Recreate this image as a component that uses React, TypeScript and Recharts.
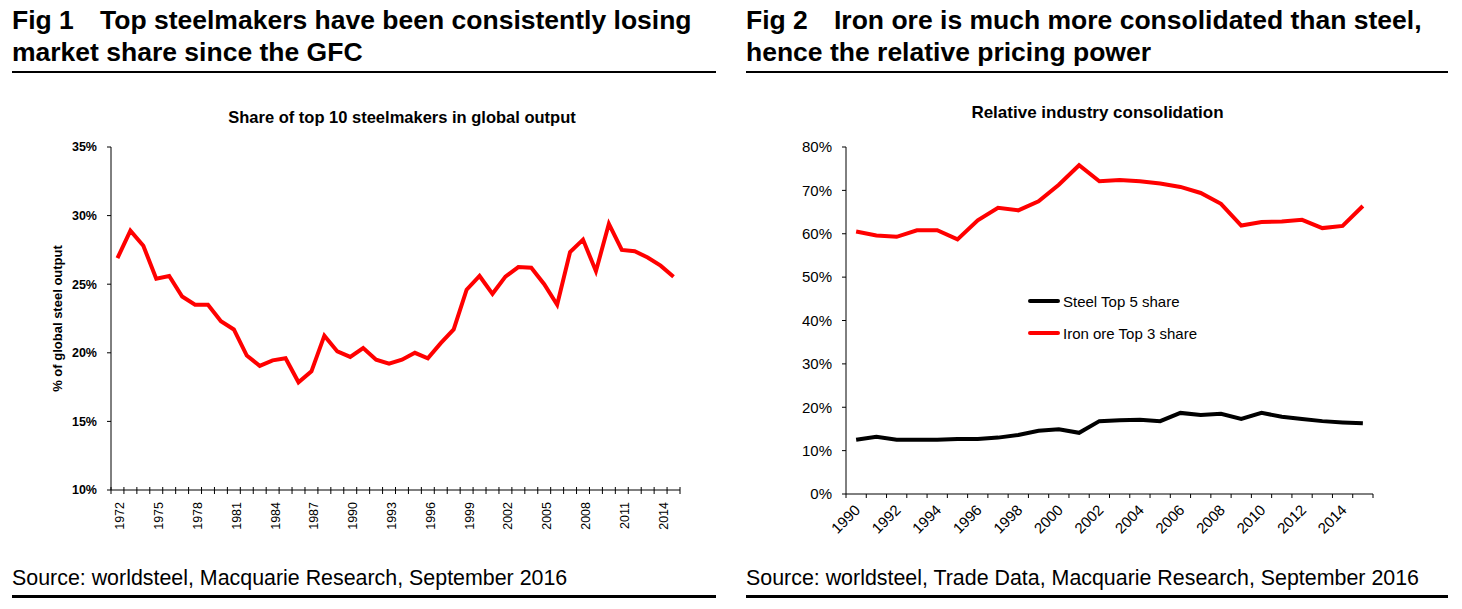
import React from 'react';
import { LineChart, Line, XAxis, YAxis, Legend } from 'recharts';

const FONT = '"Liberation Sans", Arial, Helvetica, sans-serif';

// ---------- Fig 1 data ----------
const steelYears = [
  '1972', '1973', '1974', '1975', '1976', '1977', '1978', '1979', '1980', '1981',
  '1982', '1983', '1984', '1985', '1986', '1987', '1988', '1989', '1990', '1991',
  '1992', '1993', '1994', '1995', '1996', '1997', '1998', '1999', '2000', '2001',
  '2002', '2003', '2004', '2005', '2006', '2007', '2008', '2009', '2010', '2011',
  '2012', '2013', '2014', '2015',
];
const top10Share = [
  26.9, 28.9, 27.8, 25.4, 25.6, 24.1, 23.5, 23.5, 22.3, 21.7,
  19.8, 19.05, 19.45, 19.6, 17.85, 18.65, 21.25, 20.1, 19.7, 20.35,
  19.5, 19.2, 19.5, 20.0, 19.6, 20.7, 21.7, 24.6, 25.6, 24.3,
  25.55, 26.25, 26.2, 25.0, 23.5, 27.35, 28.25, 25.95, 29.4, 27.5,
  27.4, 26.95, 26.35, 25.55,
];
const fig1Ticks = [10, 15, 20, 25, 30, 35];

// ---------- Fig 2 data ----------
const consYears = [
  '1990', '1991', '1992', '1993', '1994', '1995', '1996', '1997', '1998', '1999',
  '2000', '2001', '2002', '2003', '2004', '2005', '2006', '2007', '2008', '2009',
  '2010', '2011', '2012', '2013', '2014', '2015',
];
const steelTop5 = [
  12.5, 13.2, 12.5, 12.5, 12.5, 12.7, 12.7, 13.0, 13.6, 14.6,
  14.9, 14.1, 16.8, 17.0, 17.1, 16.8, 18.7, 18.2, 18.5, 17.3,
  18.7, 17.8, 17.3, 16.8, 16.5, 16.3,
];
const ironTop3 = [
  60.5, 59.6, 59.3, 60.8, 60.8, 58.7, 63.1, 66.0, 65.4, 67.5,
  71.3, 75.8, 72.1, 72.4, 72.1, 71.6, 70.8, 69.4, 66.9, 61.9,
  62.7, 62.8, 63.2, 61.3, 61.8, 66.4,
];
const fig2Ticks = [0, 10, 20, 30, 40, 50, 60, 70, 80];
const legendOrder = ['steel', 'iron'];

const data1 = steelYears.map((year, i) => ({ year, share: top10Share[i] }));
const data2 = consYears.map((year, i) => ({ year, steel: steelTop5[i], iron: ironTop3[i] }));

const pct = (v: number) => `${v}%`;

const Fig1XTick = (props: any) => {
  const { x, y, payload, index, visibleTicksCount } = props;
  const off = payload && payload.offset ? payload.offset : 0;
  const isLast = index === visibleTicksCount - 1;
  return (
    <g>
      <line x1={x - off} x2={x - off} y1={y - 3} y2={y + 4} stroke="#000" strokeWidth={1} />
      {isLast && <line x1={x + off} x2={x + off} y1={y - 3} y2={y + 4} stroke="#000" strokeWidth={1} />}
      {index % 3 === 0 && (
        <text
          transform={`translate(${x + 7},${y + 12}) rotate(-90)`}
          textAnchor="end"
          fontFamily={FONT}
          fontSize={12.5}
          fill="#000"
        >
          {payload.value}
        </text>
      )}
    </g>
  );
};

const Fig2XTick = (props: any) => {
  const { x, y, payload, index, visibleTicksCount } = props;
  const off = payload && payload.offset ? payload.offset : 0;
  const isLast = index === visibleTicksCount - 1;
  return (
    <g>
      <line x1={x - off} x2={x - off} y1={y} y2={y + 4} stroke="#000" strokeWidth={1} />
      {isLast && <line x1={x + off} x2={x + off} y1={y} y2={y + 4} stroke="#000" strokeWidth={1} />}
      {index % 2 === 0 && (
        <text
          transform={`translate(${x + 5},${y + 17}) rotate(-45)`}
          textAnchor="end"
          fontFamily={FONT}
          fontSize={15}
          fill="#000"
        >
          {payload.value}
        </text>
      )}
    </g>
  );
};

const Fig2Legend = (props: any) => {
  const items = [...(props.payload || [])].sort(
    (a: any, b: any) => legendOrder.indexOf(a.dataKey) - legendOrder.indexOf(b.dataKey)
  );
  return (
    <div style={{ fontFamily: FONT, fontSize: 15, color: '#000' }}>
      {items.map((p: any) => (
        <div key={p.value} style={{ display: 'flex', alignItems: 'center', height: 32 }}>
          <div style={{ width: 32, height: 4, background: p.color, borderRadius: 2 }} />
          <span style={{ marginLeft: 3, whiteSpace: 'nowrap' }}>{p.value}</span>
        </div>
      ))}
    </div>
  );
};

const abs = (s: React.CSSProperties): React.CSSProperties => ({ position: 'absolute', ...s });

export default function App() {
  return (
    <div style={abs({ left: 0, top: 0, width: 1462, height: 609, background: '#fff', overflow: 'hidden', fontFamily: FONT, color: '#000' })}>
      {/* Headers */}
      <div style={abs({ left: 12, top: 4, width: 720, fontSize: 26.5, fontWeight: 700, lineHeight: '32px', whiteSpace: 'nowrap' })}>
        <span style={{ display: 'inline-block', width: 88 }}>Fig 1</span>Top steelmakers have been consistently losing
        <br />market share since the GFC
      </div>
      <div style={abs({ left: 746, top: 4, width: 716, fontSize: 26.5, fontWeight: 700, lineHeight: '32px', whiteSpace: 'nowrap' })}>
        <span style={{ display: 'inline-block', width: 88 }}>Fig 2</span>Iron ore is much more consolidated than steel,
        <br />hence the relative pricing power
      </div>
      <div style={abs({ left: 12, top: 71, width: 704, height: 2, background: '#000' })} />
      <div style={abs({ left: 746, top: 71, width: 702, height: 2, background: '#000' })} />

      {/* Chart titles */}
      <div style={abs({ left: 111, top: 107, width: 582, textAlign: 'center', fontSize: 16.5, fontWeight: 700, lineHeight: '20px', whiteSpace: 'nowrap' })}>
        Share of top 10 steelmakers in global output
      </div>
      <div style={abs({ left: 846, top: 103, width: 503, textAlign: 'center', fontSize: 17, fontWeight: 700, lineHeight: '20px', whiteSpace: 'nowrap' })}>
        Relative industry consolidation
      </div>

      {/* Fig 1 chart */}
      <div style={abs({ left: 0, top: 0 })}>
        <LineChart width={730} height={609} data={data1} margin={{ top: 147, right: 50, bottom: 59, left: 51 }}>
          <XAxis
            dataKey="year"
            scale="band"
            interval={0}
            height={60}
            tickSize={0}
            tickMargin={0}
            tickLine={false}
            axisLine={{ stroke: '#000', strokeWidth: 1 }}
            tick={<Fig1XTick />}
          />
          <YAxis
            width={60}
            domain={[10, 35]}
            ticks={fig1Ticks}
            tickFormatter={pct}
            tickSize={4}
            tickMargin={10}
            tickLine={{ stroke: '#000' }}
            axisLine={{ stroke: '#000', strokeWidth: 1 }}
            tick={{ fontFamily: FONT, fontSize: 12.5, fontWeight: 700, fill: '#000' }}
            label={{
              value: '% of global steel output',
              angle: -90,
              position: 'insideLeft',
              offset: 6,
              style: { fontFamily: FONT, fontSize: 13, fontWeight: 700, fill: '#000', textAnchor: 'middle' },
            }}
          />
          <Line
            type="linear"
            dataKey="share"
            stroke="#ff0000"
            strokeWidth={4}
            dot={false}
            isAnimationActive={false}
          />
        </LineChart>
      </div>

      {/* Fig 2 chart */}
      <div style={abs({ left: 730, top: 0 })}>
        <LineChart width={732} height={609} data={data2} margin={{ top: 147, right: 89, bottom: 55, left: 56 }}>
          <XAxis
            dataKey="year"
            scale="band"
            interval={0}
            height={60}
            tickSize={0}
            tickMargin={0}
            tickLine={false}
            axisLine={{ stroke: '#000', strokeWidth: 1 }}
            tick={<Fig2XTick />}
          />
          <YAxis
            width={60}
            domain={[0, 80]}
            ticks={fig2Ticks}
            tickFormatter={pct}
            tickSize={4}
            tickMargin={10}
            tickLine={{ stroke: '#000' }}
            axisLine={{ stroke: '#000', strokeWidth: 1 }}
            tick={{ fontFamily: FONT, fontSize: 15, fill: '#000' }}
          />
          <Legend
            layout="horizontal"
            verticalAlign="middle"
            align="center"
            content={<Fig2Legend />}
            wrapperStyle={{ left: 298, top: 285, width: 220, height: 64, margin: 0, padding: 0 }}
          />
          <Line
            type="linear"
            dataKey="steel"
            name="Steel Top 5 share"
            stroke="#000000"
            strokeWidth={4}
            dot={false}
            isAnimationActive={false}
          />
          <Line
            type="linear"
            dataKey="iron"
            name="Iron ore Top 3 share"
            stroke="#ff0000"
            strokeWidth={4}
            dot={false}
            isAnimationActive={false}
          />
        </LineChart>
      </div>

      {/* Sources */}
      <div style={abs({ left: 12, top: 566, fontSize: 21.4, lineHeight: '24px', whiteSpace: 'nowrap' })}>
        Source: worldsteel, Macquarie Research, September 2016
      </div>
      <div style={abs({ left: 746, top: 566, fontSize: 21.4, lineHeight: '24px', whiteSpace: 'nowrap' })}>
        Source: worldsteel, Trade Data, Macquarie Research, September 2016
      </div>
      <div style={abs({ left: 12, top: 595, width: 704, height: 3, background: '#000' })} />
      <div style={abs({ left: 746, top: 595, width: 702, height: 3, background: '#000' })} />
    </div>
  );
}
